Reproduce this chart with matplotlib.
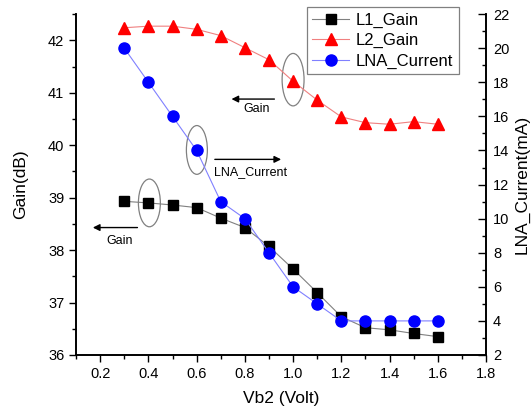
import matplotlib.pyplot as plt
from matplotlib.patches import Ellipse
from matplotlib.ticker import MultipleLocator

plt.rcParams['font.family'] = ['Liberation Sans', 'DejaVu Sans']

# data
vb2 = [0.3, 0.4, 0.5, 0.6, 0.7, 0.8, 0.9, 1.0, 1.1, 1.2, 1.3, 1.4, 1.5, 1.6]
l1_gain = [38.93, 38.90, 38.86, 38.81, 38.61, 38.43, 38.07, 37.64, 37.19, 36.73,
           36.52, 36.48, 36.41, 36.35]
l2_gain = [42.24, 42.27, 42.27, 42.21, 42.09, 41.86, 41.63, 41.22, 40.86, 40.54,
           40.43, 40.40, 40.45, 40.40]
lna_current = [20, 18, 16, 14, 11, 10, 8, 6, 5, 4, 4, 4, 4, 4]

fig = plt.figure(figsize=(5.32, 4.15), dpi=100)
ax = fig.add_axes([0.143, 0.1446, 0.7705, 0.8214])
ax2 = ax.twinx()

h1, = ax.plot(vb2, l1_gain, color='#808080', lw=0.8, marker='s', ms=6.5,
              mfc='black', mec='black', label='L1_Gain')
h2, = ax.plot(vb2, l2_gain, color='#f08080', lw=0.8, marker='^', ms=8,
              mfc='red', mec='red', label='L2_Gain')
h3, = ax2.plot(vb2, lna_current, color='#8080ff', lw=0.8, marker='o', ms=8,
               mfc='blue', mec='blue', label='LNA_Current')

ax.set_xlim(0.1, 1.8)
ax.set_ylim(36, 42.5)
ax2.set_ylim(2, 22)

ax.xaxis.set_major_locator(MultipleLocator(0.2))
ax.xaxis.set_minor_locator(MultipleLocator(0.1))
ax.yaxis.set_major_locator(MultipleLocator(1))
ax.yaxis.set_minor_locator(MultipleLocator(0.5))
ax2.yaxis.set_major_locator(MultipleLocator(2))
ax2.yaxis.set_minor_locator(MultipleLocator(1))

for a in (ax, ax2):
    a.spines['top'].set_visible(False)
    for s in a.spines.values():
        s.set_linewidth(1.2)
ax.tick_params(which='major', direction='out', length=5, width=1, labelsize=10.5)
ax.tick_params(which='minor', direction='out', length=3, width=1)
ax2.tick_params(which='major', direction='in', length=6, width=1, labelsize=10.5, pad=5)
ax2.tick_params(which='minor', direction='in', length=3, width=1)

ax.set_xlabel('Vb2 (Volt)', fontsize=12.5, labelpad=7)
ax.set_ylabel('Gain(dB)', fontsize=12.5, labelpad=14)
ax2.set_ylabel('LNA_Current(mA)', fontsize=12.5, labelpad=4)

# ellipses marking which axis each curve belongs to
for cx, cy, w, h in [(0.404, 38.90, 0.091, 0.91),
                     (0.601, 39.91, 0.087, 0.93),
                     (1.0, 41.25, 0.091, 1.0)]:
    ax.add_patch(Ellipse((cx, cy), w, h, fill=False, ec='#808080', lw=0.9))

arrow = dict(arrowstyle='-|>', color='black', lw=1, mutation_scale=10)
ax.annotate('', xy=(0.158, 38.43), xytext=(0.366, 38.43), arrowprops=arrow)
ax.text(0.279, 38.18, 'Gain', ha='center', va='center', fontsize=9)
ax.annotate('', xy=(0.962, 39.73), xytext=(0.664, 39.73), arrowprops=arrow)
ax.text(0.67, 39.49, 'LNA_Current', ha='left', va='center', fontsize=9)
ax.annotate('', xy=(0.733, 40.88), xytext=(0.934, 40.88), arrowprops=arrow)
ax.text(0.85, 40.69, 'Gain', ha='center', va='center', fontsize=9)

leg = ax2.legend(handles=[h1, h2, h3], loc='upper right',
                 bbox_to_anchor=(0.934, 1.02), borderaxespad=0, fontsize=12,
                 fancybox=False, edgecolor='#808080', framealpha=1,
                 handlelength=2.2, borderpad=0.35, labelspacing=0.3,
                 handletextpad=0.4)
leg.get_frame().set_linewidth(0.9)

fig.savefig('out.png', dpi=100)
